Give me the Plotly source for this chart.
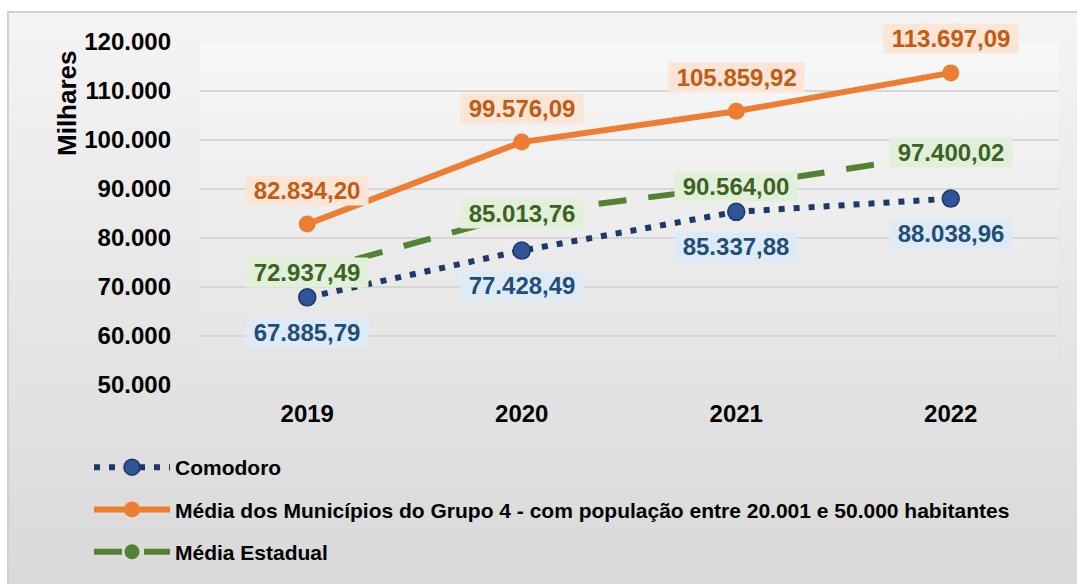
import base64
import plotly.graph_objects as go

years = ["2019", "2020", "2021", "2022"]
comodoro = [67885.79, 77428.49, 85337.88, 88038.96]
grupo4 = [82834.20, 99576.09, 105859.92, 113697.09]
estadual = [72937.49, 85013.76, 90564.00, 97400.02]

names = ["Comodoro",
         "Média dos Municípios do Grupo 4 - com população entre 20.001 e 50.000 habitantes",
         "Média Estadual"]

y_ticks = [50000, 60000, 70000, 80000, 90000, 100000, 110000, 120000]

FONT = "Liberation Sans, Arial, sans-serif"


def br(v):
    s = f"{v:,.2f}"
    return s.replace(",", "X").replace(".", ",").replace("X", ".")


def grad(top, bottom):
    svg = (f'<svg xmlns="http://www.w3.org/2000/svg" width="100" height="100" preserveAspectRatio="none">'
           f'<defs><linearGradient id="g" x1="0" y1="0" x2="0" y2="1">'
           f'<stop offset="0" stop-color="{top}"/><stop offset="1" stop-color="{bottom}"/>'
           f'</linearGradient></defs><rect width="100" height="100" fill="url(#g)"/></svg>')
    return "data:image/svg+xml;base64," + base64.b64encode(svg.encode()).decode()


fig = go.Figure()

fig.add_trace(go.Scatter(
    x=years, y=comodoro, name=names[0], mode="lines+markers",
    line=dict(color="#203864", width=6, dash="6px,9px"),
    marker=dict(size=17, color="#2f5597", line=dict(color="#1f3864", width=1.5)),
    legendgroup="a"))
fig.add_trace(go.Scatter(
    x=years, y=grupo4, name=names[1], mode="lines+markers",
    line=dict(color="#ed7d31", width=6),
    marker=dict(size=17, color="#ed7d31"),
    legendgroup="b"))
fig.add_trace(go.Scatter(
    x=years, y=estadual, name=names[2], mode="lines+markers",
    line=dict(color="#548235", width=6, dash="28px,22px"),
    marker=dict(size=15, color="#548235"),
    legendgroup="c"))

ann = []
for series, shift, fc, bg in [(grupo4, 34, "#c55a11", "#fbe5d6"),
                              (estadual, 0, "#3b6324", "#e2f0d9"),
                              (comodoro, -35, "#1f4e79", "#deebf7")]:
    for i, v in enumerate(series):
        ann.append(dict(x=i, y=v, xref="x", yref="y", text="\u00a0" + br(v) + "\u00a0",
                        showarrow=False, yshift=shift, bgcolor=bg, borderpad=1,
                        font=dict(family=FONT, size=24, color=fc, weight="bold")))

L, R, T, B = 200, 19, 42, 199
W, H = 1077, 584
pw, ph = W - L - R, H - T - B


def px_x(p):
    return (p - L) / pw


def px_y(p):
    return (H - B - p) / ph


ann.append(dict(x=px_x(67), y=px_y(103), xref="paper", yref="paper", text="Milhares",
                textangle=-90, showarrow=False, xanchor="center", yanchor="middle",
                font=dict(family=FONT, size=26, color="#000000", weight="bold")))

fig.update_layout(
    width=W, height=H,
    margin=dict(l=L, r=R, t=T, b=B),
    paper_bgcolor="#ffffff",
    plot_bgcolor="rgba(0,0,0,0)",
    separators=",.",
    font=dict(family=FONT, color="#000000"),
    showlegend=True,
    legend=dict(x=px_x(89), y=px_y(447), xanchor="left", yanchor="top",
                bgcolor="rgba(0,0,0,0)", tracegroupgap=12, itemwidth=76,
                font=dict(family=FONT, size=21, color="#000000", weight="bold")),
    xaxis=dict(type="category", range=[-0.5, 3.5], showgrid=False, zeroline=False,
               showline=False, ticks="", ticklabelstandoff=12,
               tickfont=dict(family=FONT, size=24, color="#000000", weight="bold")),
    yaxis=dict(range=[50000, 120000], tickvals=y_ticks, tickformat=",d",
               showgrid=True, gridcolor="#d6d6d6", gridwidth=1.5, zeroline=False,
               showline=False, ticks="", ticklabelstandoff=28,
               tickfont=dict(family=FONT, size=24, color="#000000", weight="bold")),
    annotations=ann,
    images=[
        dict(source=grad("#f4f4f4", "#d9d9d9"), xref="paper", yref="paper",
             x=px_x(8), y=px_y(12), sizex=(W - 8) / pw, sizey=(H - 12) / ph,
             sizing="stretch", layer="below", xanchor="left", yanchor="top"),
        dict(source=grad("#f7f7f7", "#e3e3e3"), xref="paper", yref="paper",
             x=0, y=1, sizex=1, sizey=1,
             sizing="stretch", layer="below", xanchor="left", yanchor="top"),
    ],
    shapes=[dict(type="rect", xref="paper", yref="paper",
                 x0=px_x(8), x1=px_x(W + 10), y0=px_y(H + 10), y1=px_y(12),
                 line=dict(color="#d0d0d0", width=2), layer="below")],
)

fig.write_html("out.html", config={"displayModeBar": False},
               post_script="document.body.style.margin='0';document.body.style.overflow='hidden';")
